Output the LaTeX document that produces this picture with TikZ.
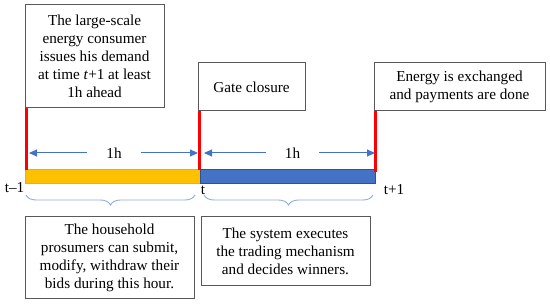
\documentclass[tikz,border=0pt]{standalone}
\usepackage{fontspec}
\setmainfont{Liberation Serif}
\usetikzlibrary{arrows.meta,decorations.pathreplacing,calc}
\definecolor{boxgray}{HTML}{595959}
\definecolor{arrblue}{HTML}{4472C4}
\definecolor{barblue}{HTML}{4472C4}
\definecolor{barblueedge}{HTML}{2F528F}
\definecolor{baryellow}{HTML}{FFC000}
\definecolor{baryellowedge}{HTML}{EDB100}
\definecolor{bracecol}{HTML}{8FAADC}
\definecolor{linered}{HTML}{FF0000}
\begin{document}
\begin{tikzpicture}[x=1pt,y=-1pt,
  txt/.style={font=\fontsize{15.2}{18}\selectfont},
  infobox/.style={txt,draw=boxgray,line width=1pt,fill=white,inner sep=0pt,align=center},
  redline/.style={draw=linered,line width=2.6pt},
  harrow/.style={draw=arrblue,line width=1pt,-{Triangle[length=8pt,width=7pt]}},
  hlabel/.style={txt,inner xsep=19pt,inner ysep=0pt},
  timebrace/.style={draw=bracecol,line width=0.9pt,decorate,decoration={brace,mirror,amplitude=10pt}},
  tlabel/.style={txt,inner sep=0pt}]
\useasboundingbox (0,0) rectangle (550,305);

% bars
\node[fill=baryellow,draw=baryellowedge,line width=0.6pt,minimum width=175pt,minimum height=14pt,inner sep=0pt] (ybar) at (112.5,176) {};
\node[fill=barblue,draw=barblueedge,line width=0.8pt,minimum width=175pt,minimum height=14pt,inner sep=0pt] (bbar) at (287.5,176) {};

% top boxes
\node[infobox,minimum width=139pt,minimum height=103pt] (b1) at (94.5,56.5)
  {The large-scale\\energy consumer\\issues his demand\\at time \textit{t}+1 at least\\1h ahead};
\node[infobox,minimum width=107pt,minimum height=48pt] (b2) at (251.5,87) {Gate closure};
\node[infobox,minimum width=171pt,minimum height=48pt] (b3) at (459.5,87)
  {Energy is exchanged\\and payments are done};

% red lines
\draw[redline] ([xshift=2pt]b1.south west) -- ([xshift=2pt,yshift=-1pt]b1.south west |- ybar.north);
\draw[redline] ([xshift=2pt]b2.south west) -- ([xshift=2pt,yshift=-1pt]b2.south west |- bbar.north);
\draw[redline] ([xshift=2pt]b3.south west) -- ([xshift=2pt,yshift=-3pt]b3.south west |- bbar.north);

% 1h arrows
\coordinate (a1l) at (29,153);
\coordinate (a1r) at (198,153);
\coordinate (a2l) at (204,153);
\coordinate (a2r) at (375,153);
\node[hlabel] (h1) at (114,153) {1h};
\node[hlabel] (h2) at (292.5,153) {1h};
\draw[harrow] (h1.west) -- (a1l);
\draw[harrow] (h1.east) -- (a1r);
\draw[harrow] (h2.west) -- (a2l);
\draw[harrow] (h2.east) -- (a2r);

% time labels
\node[tlabel] (tm1) at (14.5,188) {t–1};
\node[tlabel] (t0) at (203,190) {t};
\node[tlabel] (tp1) at (394,190) {t+1};

% braces
\coordinate (br1l) at (26,195);
\coordinate (br1r) at (195,195);
\coordinate (br2l) at (204,195);
\coordinate (br2r) at (373,195);
\draw[timebrace] (br1l) -- (br1r);
\draw[timebrace] (br2l) -- (br2r);

% bottom boxes
\node[infobox,minimum width=169pt,minimum height=81pt] (b4) at (109.5,257.5)
  {The household\\prosumers can submit,\\modify, withdraw their\\bids during this hour.};
\node[infobox,minimum width=169pt,minimum height=68pt] (b5) at (285.5,251)
  {The system executes\\the trading mechanism\\and decides winners.};
\end{tikzpicture}
\end{document}
